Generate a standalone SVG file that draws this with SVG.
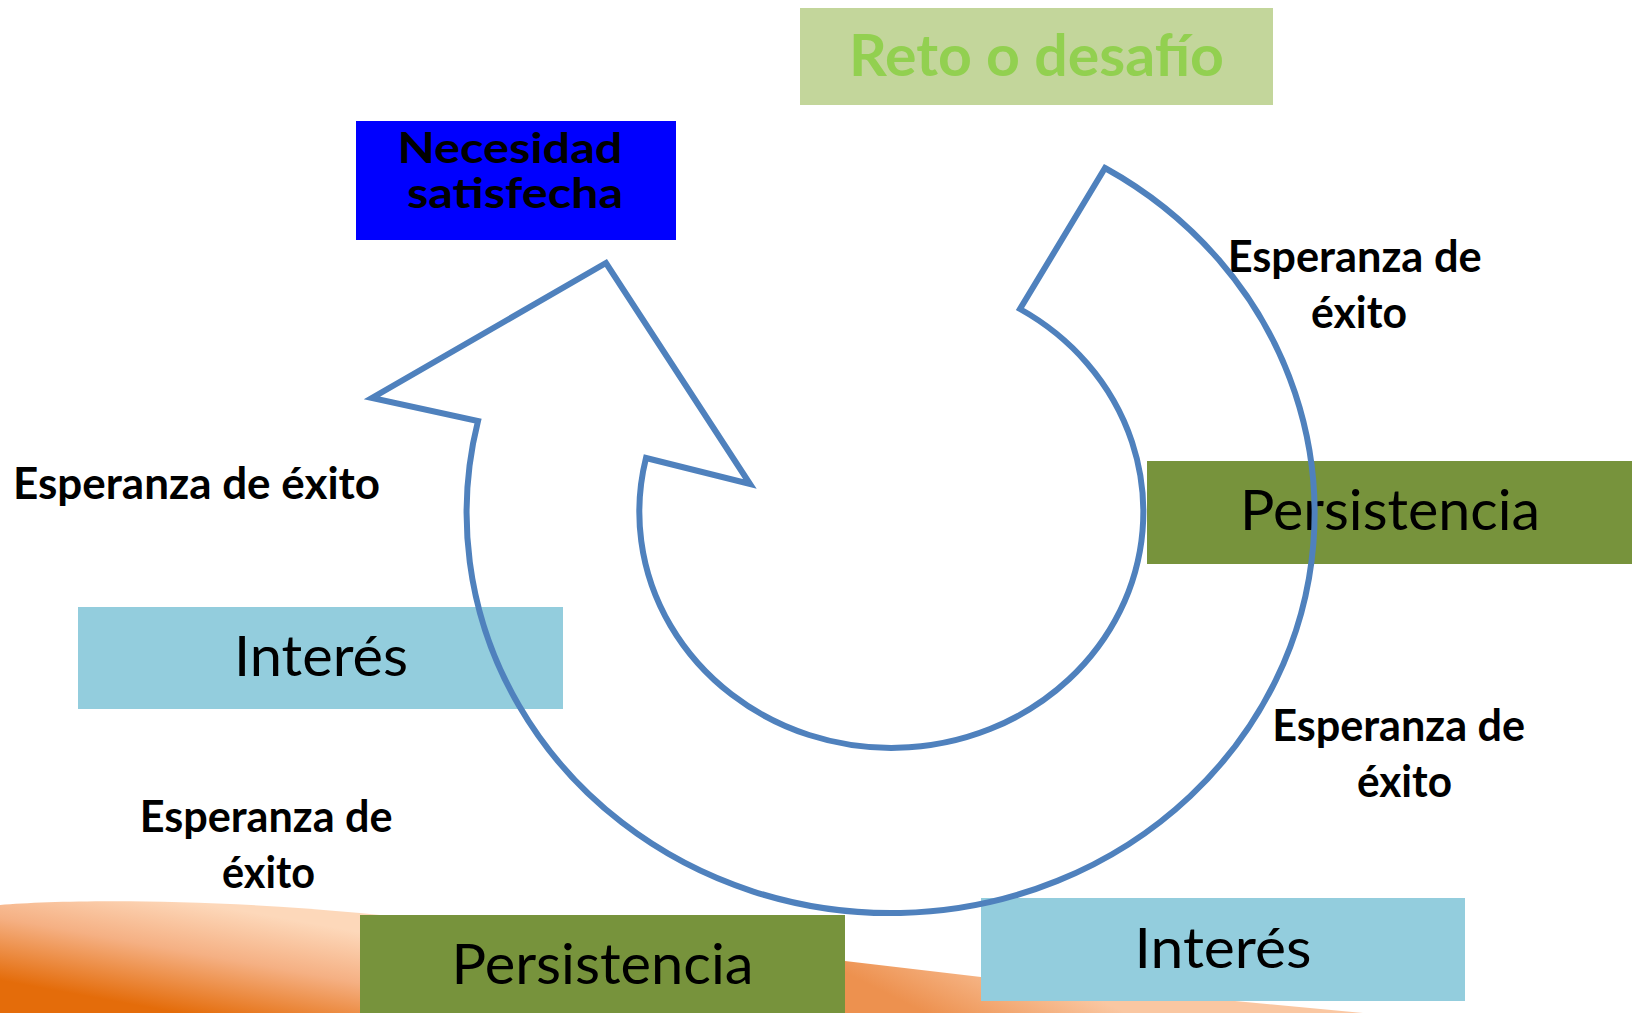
<svg xmlns="http://www.w3.org/2000/svg" width="1632" height="1013" viewBox="0 0 1632 1013">
  <defs>
    <linearGradient id="waveL" gradientUnits="userSpaceOnUse" x1="200" y1="903" x2="180" y2="1013">
      <stop offset="0" stop-color="#FDD8BA"/>
      <stop offset="0.45" stop-color="#F5B083"/>
      <stop offset="1" stop-color="#E46C0A"/>
    </linearGradient>
    <linearGradient id="waveR" gradientUnits="userSpaceOnUse" x1="1000" y1="950" x2="960" y2="1030">
      <stop offset="0" stop-color="#FAC7A2"/>
      <stop offset="1" stop-color="#ED914F"/>
    </linearGradient>
    <style>
      .box-text { font-family: Lato, "Open Sans", "Liberation Sans", sans-serif; fill: #000; text-anchor: middle; }
      .big { font-size: 57px; font-weight: 400; }
      .bold { font-weight: 700; }
      .label { font-family: Lato, "Open Sans", "Liberation Sans", sans-serif; font-weight: 700; font-size: 44px; fill: #000; text-anchor: middle; }
      .persist { fill: #77933C; }
      .interes { fill: #93CDDD; }
      .ring { fill: none; stroke: #4F81BD; stroke-width: 6; stroke-linejoin: miter; stroke-miterlimit: 10; }
    </style>
  </defs>

  <g id="background">
    <path d="M0,905 C60,900 200,898 360,913 L600,937 L600,1013 L0,1013 Z" fill="url(#waveL)"/>
    <path d="M600,937 L845,961 L981,977 L1363,1013 L600,1013 Z" fill="url(#waveR)"/>
  </g>

  <g id="reto">
    <rect x="800" y="8" width="473" height="97" fill="#C3D69B"/>
    <text x="1036.5" y="76" class="box-text bold" font-size="58" style="fill:#92D050" textLength="375" lengthAdjust="spacingAndGlyphs">Reto o desafío</text>
  </g>

  <g id="necesidad">
    <rect x="356" y="121" width="320" height="119" fill="#0000FF"/>
    <text class="box-text bold" font-size="42">
      <tspan x="515" y="163" textLength="225" lengthAdjust="spacingAndGlyphs">Necesidad</tspan>
      <tspan x="515" y="208" textLength="216" lengthAdjust="spacingAndGlyphs">satisfecha</tspan>
    </text>
  </g>

  <g id="persistencia-right">
    <rect x="1147" y="461" width="485" height="103" class="persist"/>
    <text x="1390" y="530" class="box-text big" textLength="300" lengthAdjust="spacingAndGlyphs">Persistencia</text>
  </g>

  <g id="interes-left">
    <rect x="78" y="607" width="485" height="102" class="interes"/>
    <text x="321" y="676" class="box-text big" textLength="174" lengthAdjust="spacingAndGlyphs">Interés</text>
  </g>

  <g id="persistencia-bottom">
    <rect x="360" y="915" width="485" height="103" class="persist"/>
    <text x="602.5" y="984" class="box-text big" textLength="302" lengthAdjust="spacingAndGlyphs">Persistencia</text>
  </g>

  <g id="interes-bottom">
    <rect x="981" y="898" width="484" height="103" class="interes"/>
    <text x="1223" y="968" class="box-text big" textLength="177" lengthAdjust="spacingAndGlyphs">Interés</text>
  </g>

  <g id="label-left">
    <text x="196.5" y="499" class="label" textLength="367" lengthAdjust="spacingAndGlyphs">Esperanza de éxito</text>
  </g>

  <g id="label-top-right">
    <text class="label">
      <tspan x="1360" y="272" textLength="254" lengthAdjust="spacingAndGlyphs">Esperanza de</tspan>
      <tspan x="1359" y="328" textLength="96" lengthAdjust="spacingAndGlyphs">éxito</tspan>
    </text>
  </g>

  <g id="label-bottom-right">
    <text class="label">
      <tspan x="1404" y="741" textLength="253" lengthAdjust="spacingAndGlyphs">Esperanza de</tspan>
      <tspan x="1404.5" y="797" textLength="95" lengthAdjust="spacingAndGlyphs">éxito</tspan>
    </text>
  </g>

  <g id="label-bottom-left">
    <text class="label">
      <tspan x="271.5" y="832" textLength="253" lengthAdjust="spacingAndGlyphs">Esperanza de</tspan>
      <tspan x="268.5" y="888" textLength="93" lengthAdjust="spacingAndGlyphs">éxito</tspan>
    </text>
  </g>

  <g id="connectors">
    <path id="cycle-arrow" class="ring" d="M1105,168 A424,400 0 1 1 478,421 L372,398 L606,263 L750,484 L646,458 A252,236 0 1 0 1020,309 Z"/>
  </g>
</svg>
